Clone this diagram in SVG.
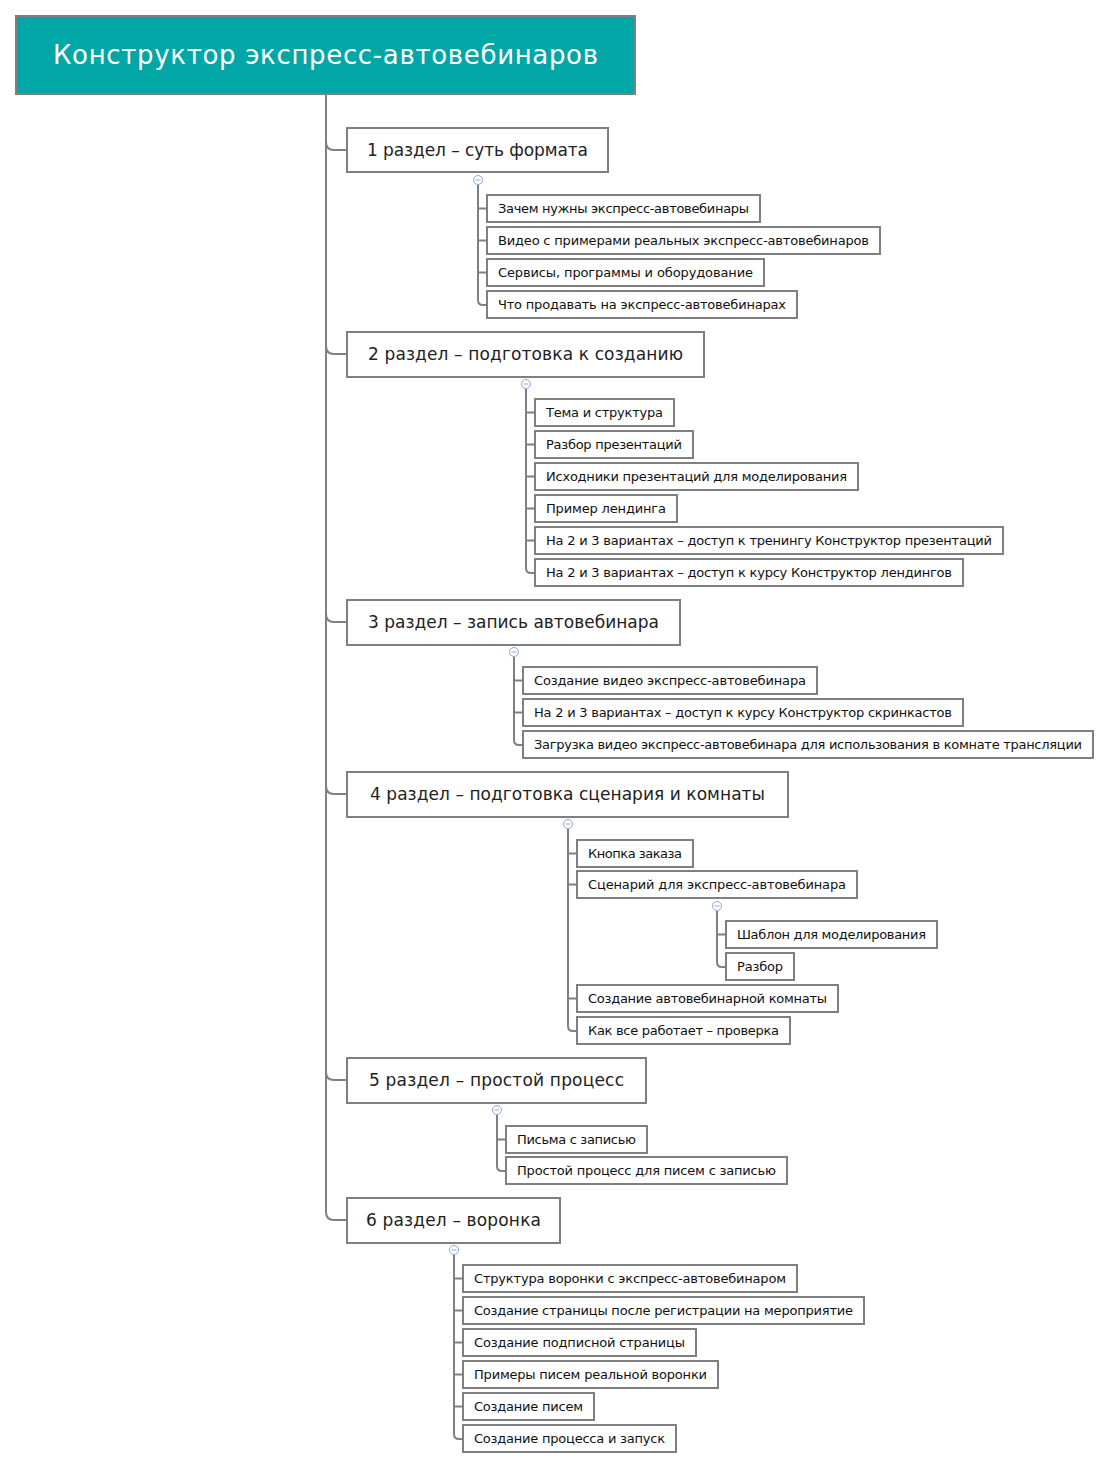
<svg xmlns="http://www.w3.org/2000/svg" width="1110" height="1470" viewBox="0 0 1110 1470">
<style>
.root{fill:#00a7a6;stroke:#7f7f7f;stroke-width:2}
.rt{font-family:"DejaVu Sans",sans-serif;font-size:26px;fill:#fff;text-anchor:middle}
.sec{fill:#fff;stroke:#7f7f7f;stroke-width:2}
.st{font-family:"DejaVu Sans",sans-serif;font-size:17px;fill:#222}
.lf{fill:#fff;stroke:#7f7f7f;stroke-width:2}
.lt{font-family:"DejaVu Sans",sans-serif;font-size:13px;fill:#111}
.ln{fill:none;stroke:#808080;stroke-width:2}
.cc{fill:#fff;stroke:#92a6e2;stroke-width:1}
.cm{stroke:#92a6e2;stroke-width:1}
</style>
<rect width="1110" height="1470" fill="#fff"/>
<g id="connectors">
<path class="ln" d="M326 95 V1212 Q326 1220 334 1220 H347"/>
<path class="ln" d="M326 142 Q326 150 334 150 H347"/>
<path class="ln" d="M326 346 Q326 354 334 354 H347"/>
<path class="ln" d="M326 614 Q326 622 334 622 H347"/>
<path class="ln" d="M326 786 Q326 794 334 794 H347"/>
<path class="ln" d="M326 1072 Q326 1080 334 1080 H347"/>
<path class="ln" d="M478 184.5 V300 Q478 305 483 305 H487 M478 208.5 H487 M478 240.5 H487 M478 272.5 H487"/>
<path class="ln" d="M526 388.5 V568 Q526 573 531 573 H535 M526 412.5 H535 M526 444.5 H535 M526 476.5 H535 M526 508.5 H535 M526 540.5 H535"/>
<path class="ln" d="M514 656.5 V740 Q514 745 519 745 H523 M514 680.5 H523 M514 712.5 H523"/>
<path class="ln" d="M568 828.5 V1026 Q568 1031 573 1031 H577 M568 853.5 H577 M568 884.5 H577 M568 998.5 H577"/>
<path class="ln" d="M717 910.5 V962 Q717 967 722 967 H726 M717 934.5 H726"/>
<path class="ln" d="M497 1114.5 V1166 Q497 1171 502 1171 H506 M497 1139.5 H506"/>
<path class="ln" d="M454 1254.5 V1434 Q454 1439 459 1439 H463 M454 1278.5 H463 M454 1310.5 H463 M454 1342.5 H463 M454 1374.5 H463 M454 1406.5 H463"/>
<g id="collapse">
<circle class="cc" cx="478" cy="180" r="4.5"/><path class="cm" d="M475.5 180 H480.5"/>
<circle class="cc" cx="526" cy="384" r="4.5"/><path class="cm" d="M523.5 384 H528.5"/>
<circle class="cc" cx="514" cy="652" r="4.5"/><path class="cm" d="M511.5 652 H516.5"/>
<circle class="cc" cx="568" cy="824" r="4.5"/><path class="cm" d="M565.5 824 H570.5"/>
<circle class="cc" cx="717" cy="906" r="4.5"/><path class="cm" d="M714.5 906 H719.5"/>
<circle class="cc" cx="497" cy="1110" r="4.5"/><path class="cm" d="M494.5 1110 H499.5"/>
<circle class="cc" cx="454" cy="1250" r="4.5"/><path class="cm" d="M451.5 1250 H456.5"/>
</g>
</g>
<g id="root"><rect class="root" x="16" y="16" width="619" height="78"/><text class="rt" x="325.5" y="64" textLength="545">Конструктор экспресс-автовебинаров</text></g>

<g id="s1"><rect class="sec" x="347" y="128" width="261" height="44"/><text class="st" x="367" y="156" textLength="221">1 раздел – суть формата</text></g>
<g id="s1a"><rect class="lf" x="487" y="195" width="273" height="27"/><text class="lt" x="498" y="213" textLength="251">Зачем нужны экспресс-автовебинары</text></g>
<g id="s1b"><rect class="lf" x="487" y="227" width="393" height="27"/><text class="lt" x="498" y="245" textLength="371">Видео с примерами реальных экспресс-автовебинаров</text></g>
<g id="s1c"><rect class="lf" x="487" y="259" width="277" height="27"/><text class="lt" x="498" y="277" textLength="255">Сервисы, программы и оборудование</text></g>
<g id="s1d"><rect class="lf" x="487" y="291" width="310" height="27"/><text class="lt" x="498" y="309" textLength="288">Что продавать на экспресс-автовебинарах</text></g>

<g id="s2"><rect class="sec" x="347" y="332" width="357" height="45"/><text class="st" x="368" y="360" textLength="315">2 раздел – подготовка к созданию</text></g>
<g id="s2a"><rect class="lf" x="535" y="399" width="139" height="27"/><text class="lt" x="546" y="417" textLength="117">Тема и структура</text></g>
<g id="s2b"><rect class="lf" x="535" y="431" width="158" height="27"/><text class="lt" x="546" y="449" textLength="136">Разбор презентаций</text></g>
<g id="s2c"><rect class="lf" x="535" y="463" width="323" height="27"/><text class="lt" x="546" y="481" textLength="301">Исходники презентаций для моделирования</text></g>
<g id="s2d"><rect class="lf" x="535" y="495" width="142" height="27"/><text class="lt" x="546" y="513" textLength="120">Пример лендинга</text></g>
<g id="s2e"><rect class="lf" x="535" y="527" width="468" height="27"/><text class="lt" x="546" y="545" textLength="446">На 2 и 3 вариантах – доступ к тренингу Конструктор презентаций</text></g>
<g id="s2f"><rect class="lf" x="535" y="559" width="428" height="27"/><text class="lt" x="546" y="577" textLength="406">На 2 и 3 вариантах – доступ к курсу Конструктор лендингов</text></g>

<g id="s3"><rect class="sec" x="347" y="600" width="333" height="45"/><text class="st" x="368" y="628" textLength="291">3 раздел – запись автовебинара</text></g>
<g id="s3a"><rect class="lf" x="523" y="667" width="294" height="27"/><text class="lt" x="534" y="685" textLength="272">Создание видео экспресс-автовебинара</text></g>
<g id="s3b"><rect class="lf" x="523" y="699" width="440" height="27"/><text class="lt" x="534" y="717" textLength="418">На 2 и 3 вариантах – доступ к курсу Конструктор скринкастов</text></g>
<g id="s3c"><rect class="lf" x="523" y="731" width="570" height="27"/><text class="lt" x="534" y="749" textLength="548">Загрузка видео экспресс-автовебинара для использования в комнате трансляции</text></g>

<g id="s4"><rect class="sec" x="347" y="772" width="441" height="45"/><text class="st" x="370" y="800" textLength="395">4 раздел – подготовка сценария и комнаты</text></g>
<g id="s4a"><rect class="lf" x="577" y="840" width="116" height="27"/><text class="lt" x="588" y="858" textLength="94">Кнопка заказа</text></g>
<g id="s4b"><rect class="lf" x="577" y="871" width="280" height="27"/><text class="lt" x="588" y="889" textLength="258">Сценарий для экспресс-автовебинара</text></g>
<g id="s4b1"><rect class="lf" x="726" y="921" width="211" height="27"/><text class="lt" x="737" y="939" textLength="189">Шаблон для моделирования</text></g>
<g id="s4b2"><rect class="lf" x="726" y="953" width="68" height="27"/><text class="lt" x="737" y="971" textLength="46">Разбор</text></g>
<g id="s4c"><rect class="lf" x="577" y="985" width="261" height="27"/><text class="lt" x="588" y="1003" textLength="239">Создание автовебинарной комнаты</text></g>
<g id="s4d"><rect class="lf" x="577" y="1017" width="213" height="27"/><text class="lt" x="588" y="1035" textLength="191">Как все работает – проверка</text></g>

<g id="s5"><rect class="sec" x="347" y="1058" width="299" height="45"/><text class="st" x="369" y="1086" textLength="255">5 раздел – простой процесс</text></g>
<g id="s5a"><rect class="lf" x="506" y="1126" width="141" height="27"/><text class="lt" x="517" y="1144" textLength="119">Письма с записью</text></g>
<g id="s5b"><rect class="lf" x="506" y="1157" width="281" height="27"/><text class="lt" x="517" y="1175" textLength="259">Простой процесс для писем с записью</text></g>

<g id="s6"><rect class="sec" x="347" y="1198" width="213" height="45"/><text class="st" x="366" y="1226" textLength="175">6 раздел – воронка</text></g>
<g id="s6a"><rect class="lf" x="463" y="1265" width="334" height="27"/><text class="lt" x="474" y="1283" textLength="312">Структура воронки с экспресс-автовебинаром</text></g>
<g id="s6b"><rect class="lf" x="463" y="1297" width="401" height="27"/><text class="lt" x="474" y="1315" textLength="379">Создание страницы после регистрации на мероприятие</text></g>
<g id="s6c"><rect class="lf" x="463" y="1329" width="233" height="27"/><text class="lt" x="474" y="1347" textLength="211">Создание подписной страницы</text></g>
<g id="s6d"><rect class="lf" x="463" y="1361" width="255" height="27"/><text class="lt" x="474" y="1379" textLength="233">Примеры писем реальной воронки</text></g>
<g id="s6e"><rect class="lf" x="463" y="1393" width="131" height="27"/><text class="lt" x="474" y="1411" textLength="109">Создание писем</text></g>
<g id="s6f"><rect class="lf" x="463" y="1425" width="213" height="27"/><text class="lt" x="474" y="1443" textLength="191">Создание процесса и запуск</text></g>
</svg>
